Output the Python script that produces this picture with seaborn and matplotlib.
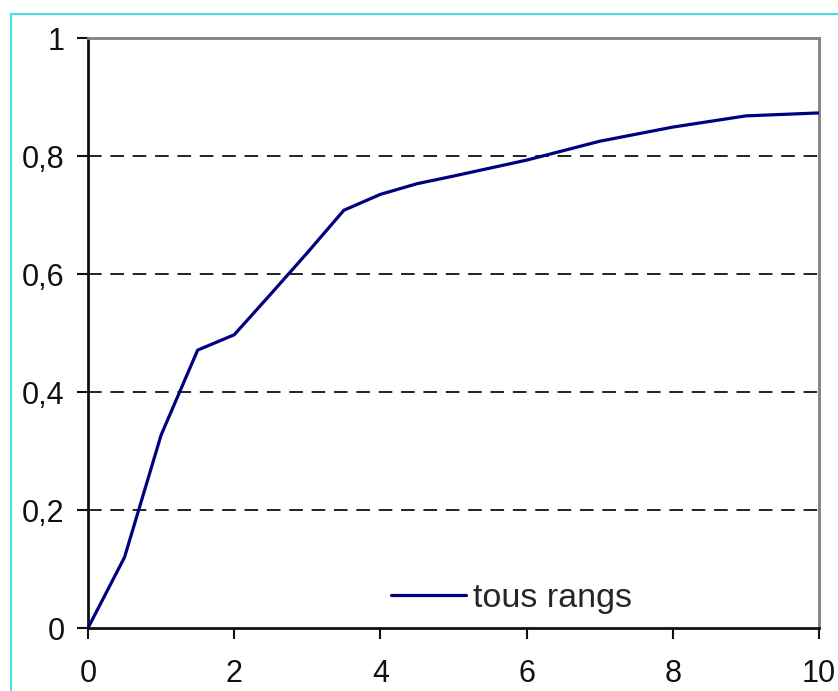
import matplotlib
matplotlib.use("Agg")
import matplotlib.pyplot as plt
import seaborn as sns
import pandas as pd
from matplotlib.patches import Rectangle

x_vals = [0, 0.5, 1, 1.5, 2, 2.5, 3, 3.5, 4, 4.5, 5, 6, 7, 8, 9, 10]
y_vals = [0, 0.12, 0.327, 0.471, 0.497, 0.566, 0.636, 0.708, 0.735, 0.753, 0.766, 0.793, 0.825, 0.849, 0.868, 0.873]
series_label = "tous rangs"
x_ticks = [0, 2, 4, 6, 8, 10]
y_ticks = [0, 0.2, 0.4, 0.6, 0.8, 1]
y_tick_labels = ["0", "0,2", "0,4", "0,6", "0,8", "1"]

sns.set_style("white")
plt.rcParams['font.family'] = ['Liberation Sans', 'DejaVu Sans']

df = pd.DataFrame({"x": x_vals, "y": y_vals, "serie": series_label})

fig = plt.figure(figsize=(8.38, 6.91), dpi=100)
ax = fig.add_axes([88/838, 1-628/691, (819-88)/838, (628-38)/691])

for yv in y_ticks[1:-1]:
    ax.axhline(yv, color="#222222", lw=1.4, dashes=(7, 4.5), zorder=1)

sns.lineplot(data=df, x="x", y="y", hue="serie", palette=["#000080"], lw=2.3, ax=ax, zorder=3)

ax.set_xlim(0, 10)
ax.set_ylim(0, 1)
ax.set_xticks(x_ticks)
ax.set_xticklabels([str(t) for t in x_ticks])
ax.set_yticks(y_ticks)
ax.set_yticklabels(y_tick_labels)
ax.set_xlabel("")
ax.set_ylabel("")
ax.tick_params(axis="both", labelsize=22, colors="#111111", length=8, width=1.5, direction="out",
               left=True, bottom=True)
ax.tick_params(axis="x", pad=14)
ax.tick_params(axis="y", pad=9)
for s in ["left", "bottom"]:
    ax.spines[s].set_color("#111111")
    ax.spines[s].set_linewidth(2)
for s in ["top", "right"]:
    ax.spines[s].set_color("#808080")
    ax.spines[s].set_linewidth(2)

leg = ax.legend(loc="center", bbox_to_anchor=(0.579, 0.05), frameon=False, fontsize=24.5,
                handlelength=2.2, handletextpad=0.2, borderaxespad=0.0, borderpad=0.0)

fig.patches.append(Rectangle((11/838, -0.1), 1.2, 1-14/691+0.1, transform=fig.transFigure,
                             fill=False, edgecolor="#4dd9e6", lw=1.5, zorder=0))

fig.savefig("out.png", dpi=100)
